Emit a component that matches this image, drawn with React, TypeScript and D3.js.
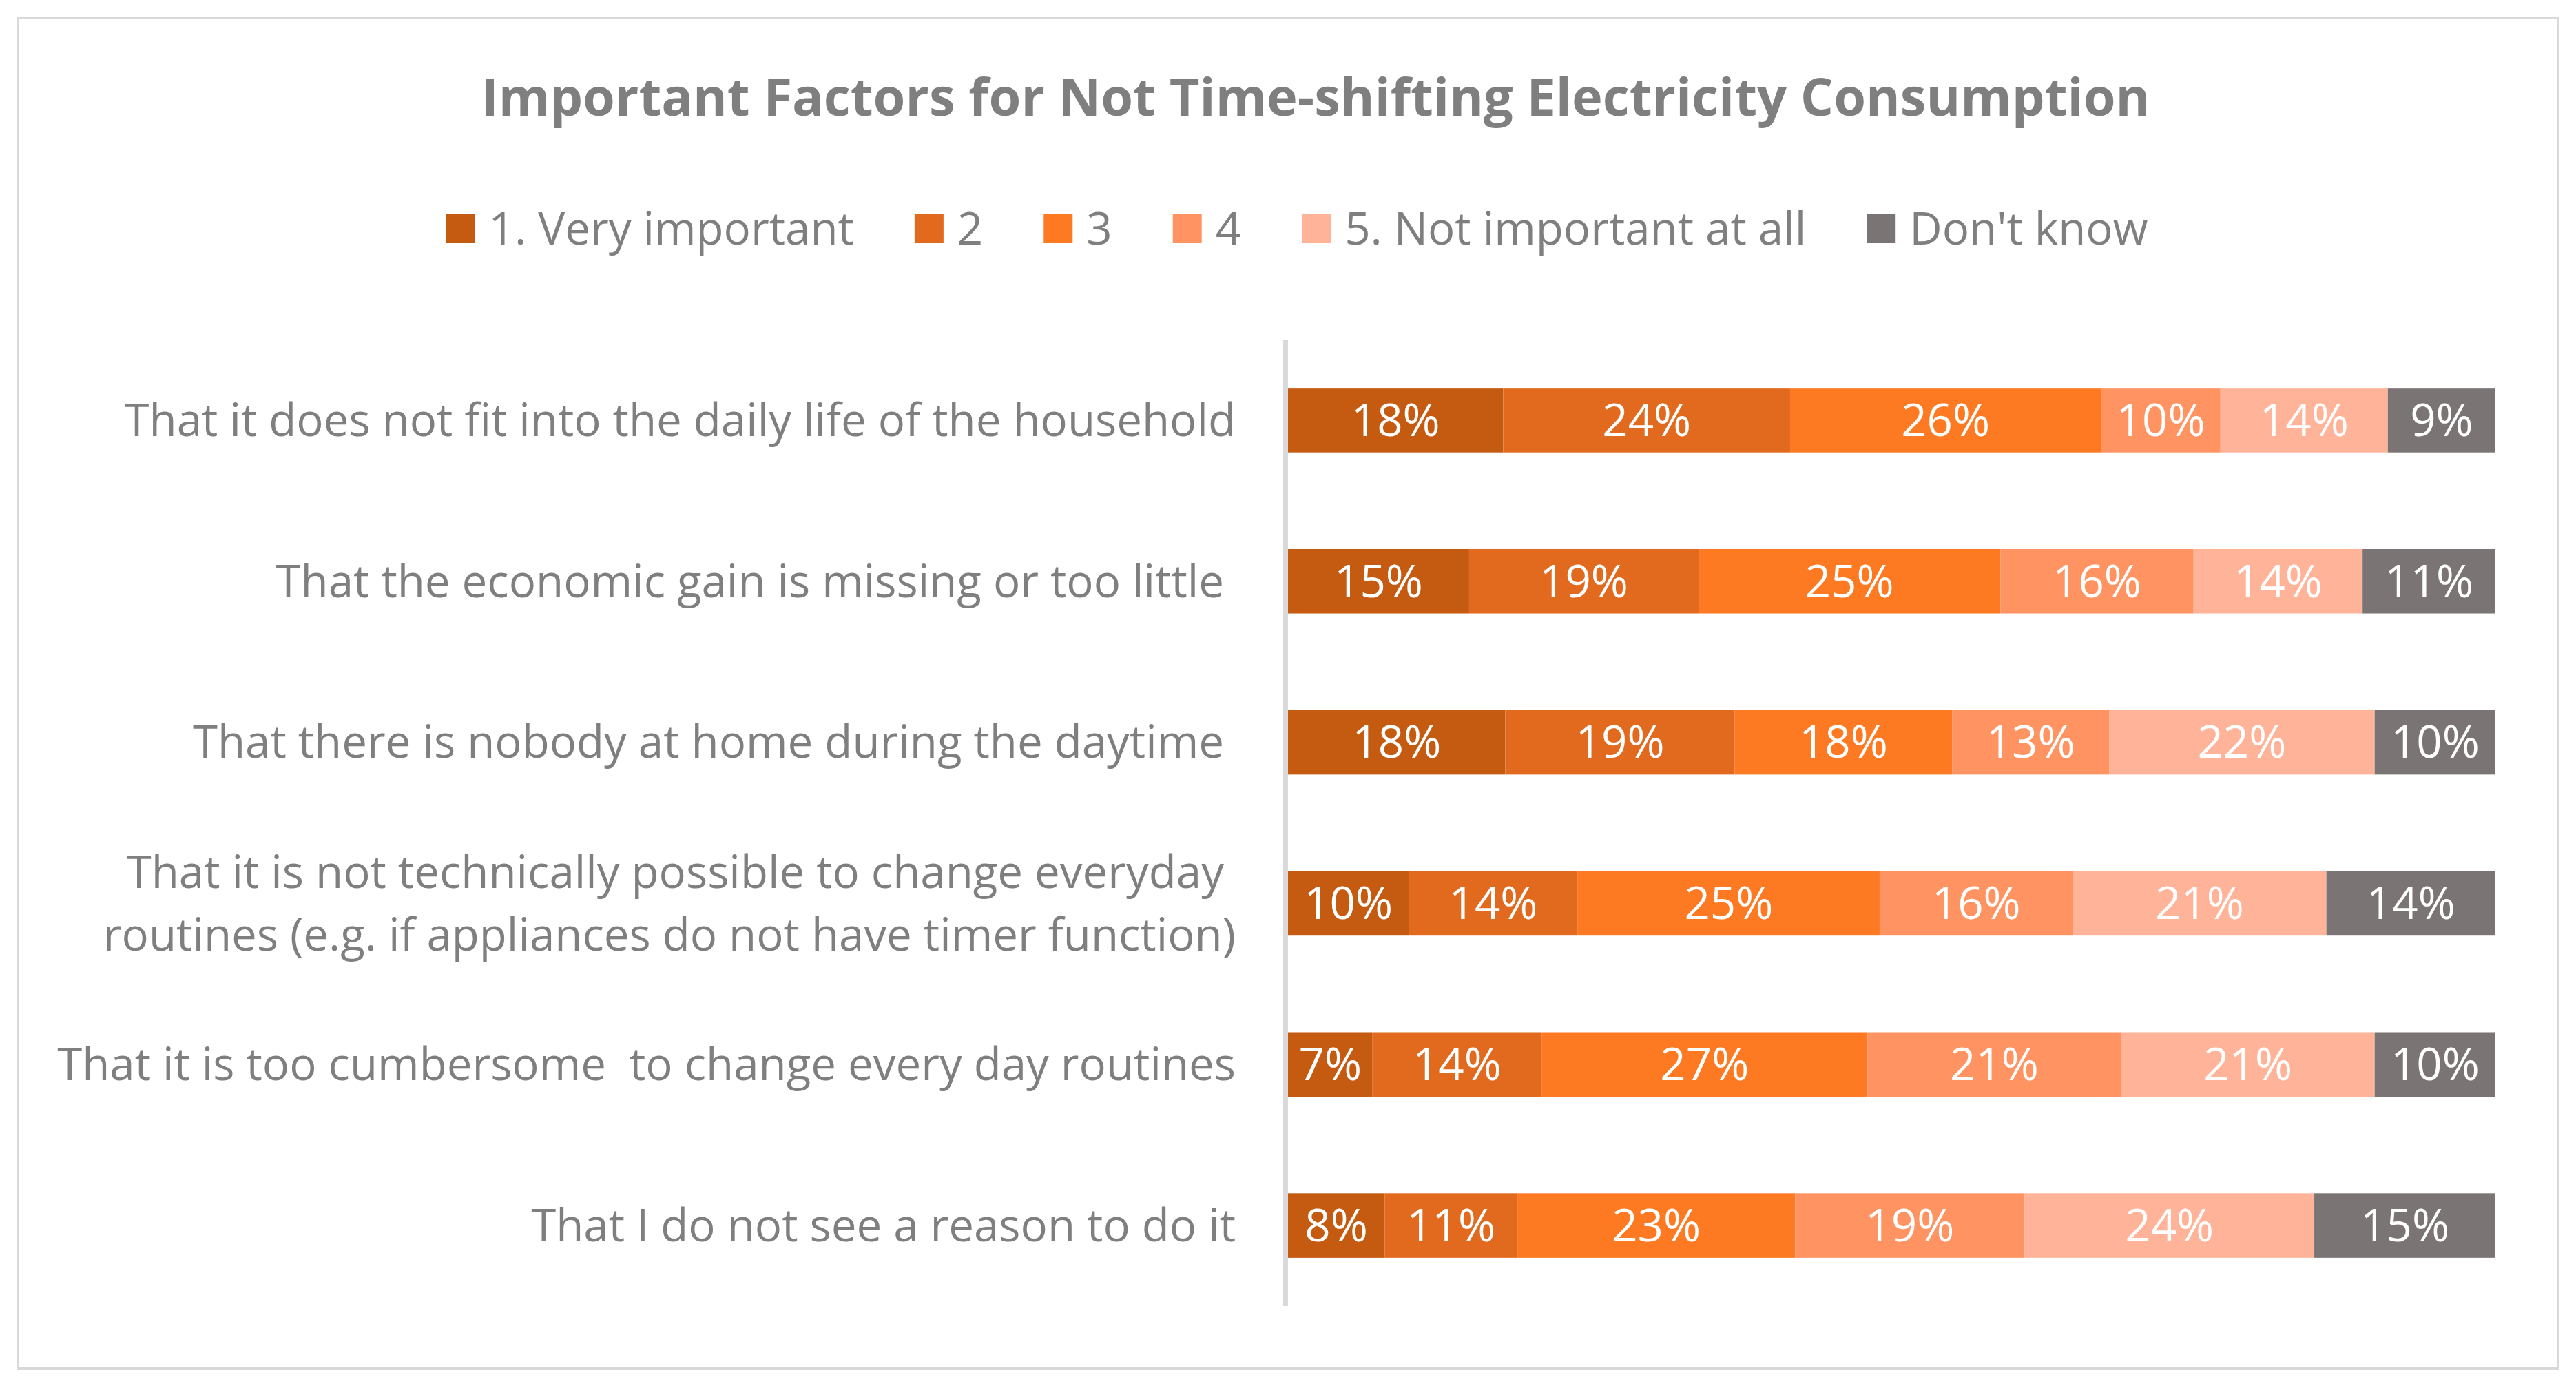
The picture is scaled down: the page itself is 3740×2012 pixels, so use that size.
import React, { useEffect, useRef } from "react";
import * as d3 from "d3";

const title = "Important Factors for Not Time-shifting Electricity Consumption";

// category labels, "\n" marks a line break as in the original
const categories = [
  "That it does not fit into the daily life of the household",
  "That the economic gain is missing or too little ",
  "That there is nobody at home during the daytime ",
  "That it is not technically possible to change everyday \nroutines (e.g. if appliances do not have timer function)",
  "That it is too cumbersome  to change every day routines",
  "That I do not see a reason to do it",
];

const seriesNames = ["1. Very important", "2", "3", "4", "5. Not important at all", "Don't know"];

const veryImportant = [18, 15, 18, 10, 7, 8];
const two = [24, 19, 19, 14, 14, 11];
const three = [26, 25, 18, 25, 27, 23];
const four = [10, 16, 13, 16, 21, 19];
const notImportant = [14, 14, 22, 21, 21, 24];
const dontKnow = [9, 11, 10, 14, 10, 15];

const colors = ["#C55A11", "#E26A1F", "#FE7A22", "#FF9462", "#FFB398", "#7B7474"];

const W = 3740;
const H = 2012;
const FONT = "'Liberation Sans Narrow', 'Open Sans', sans-serif";
const TEXT = "#7F7F7F";

export default function App() {
  const svgRef = useRef<SVGSVGElement>(null);

  useEffect(() => {
    if (!svgRef.current) return;
    document.body.style.margin = "0";
    const svg = d3.select(svgRef.current);
    svg.selectAll("*").remove();

    const measure = (s: string, size: number, weight = "normal") => {
      const t = svg
        .append("text")
        .style("font-family", FONT)
        .style("font-size", `${size}px`)
        .style("font-weight", weight)
        .style("white-space", "pre")
        .text(s);
      const len = (t.node() as SVGTextElement).getComputedTextLength();
      t.remove();
      return len;
    };

    // fit font sizes to the widths seen in the reference
    const titleSize = Math.min(88, (88 * 2423) / measure(title, 88, "bold"));
    const labelSize = Math.min(
      76,
      (76 * 1625) / measure(categories[0], 76),
      (76 * 1711) / measure(categories[4], 76),
    );

    svg
      .append("rect")
      .attr("x", 26)
      .attr("y", 26)
      .attr("width", 3688)
      .attr("height", 1961)
      .attr("fill", "#fff")
      .attr("stroke", "#D9D9D9")
      .attr("stroke-width", 4);

    svg
      .append("text")
      .attr("x", 1910)
      .attr("y", 168)
      .attr("text-anchor", "middle")
      .style("font-family", FONT)
      .style("font-size", `${titleSize}px`)
      .style("font-weight", "bold")
      .style("fill", TEXT)
      .text(title);

    // legend, laid out from measured text widths and centered
    const sq = 42;
    const gapText = 20;
    const gapItem = 88;
    const widths = seriesNames.map((n) => measure(n, labelSize));
    const total =
      d3.sum(widths) + seriesNames.length * (sq + gapText) + (seriesNames.length - 1) * gapItem;
    let lx = 1883 - total / 2;
    const legend = svg.append("g");
    seriesNames.forEach((n, i) => {
      legend
        .append("rect")
        .attr("x", lx)
        .attr("y", 311)
        .attr("width", sq)
        .attr("height", sq)
        .attr("fill", colors[i]);
      legend
        .append("text")
        .attr("x", lx + sq + gapText)
        .attr("y", 332)
        .attr("dy", "0.35em")
        .style("font-family", FONT)
        .style("font-size", `${labelSize}px`)
        .style("fill", TEXT)
        .style("white-space", "pre")
        .text(n);
      lx += sq + gapText + widths[i] + gapItem;
    });

    const rows = categories.map((c, i) => ({
      label: c,
      s0: veryImportant[i],
      s1: two[i],
      s2: three[i],
      s3: four[i],
      s4: notImportant[i],
      s5: dontKnow[i],
    }));
    const keys = ["s0", "s1", "s2", "s3", "s4", "s5"];

    const stacked = d3
      .stack<any>()
      .keys(keys)
      .offset(d3.stackOffsetExpand)(rows);

    const y = d3
      .scaleBand<number>()
      .domain(d3.range(categories.length))
      .range([493, 1896])
      .paddingInner(0.6)
      .paddingOuter(0.3);

    const x = d3.scaleLinear().domain([0, 1]).range([1870, 3623]);

    const layer = svg
      .selectAll(".layer")
      .data(stacked)
      .enter()
      .append("g")
      .attr("fill", (_d, i) => colors[i]);

    layer
      .selectAll("rect")
      .data((d) => d.map((p, i) => ({ p, i })))
      .enter()
      .append("rect")
      .attr("x", (d) => x(d.p[0]))
      .attr("y", (d) => y(d.i)!)
      .attr("width", (d) => x(d.p[1]) - x(d.p[0]))
      .attr("height", y.bandwidth());

    stacked.forEach((s) => {
      svg
        .append("g")
        .selectAll("text")
        .data(s.map((p, i) => ({ p, i, v: (p.data as any)[s.key] as number })))
        .enter()
        .append("text")
        .attr("x", (d) => (x(d.p[0]) + x(d.p[1])) / 2)
        .attr("y", (d) => y(d.i)! + y.bandwidth() / 2)
        .attr("dy", "0.35em")
        .attr("text-anchor", "middle")
        .style("font-family", FONT)
        .style("font-size", `${labelSize}px`)
        .style("fill", "#fff")
        .text((d) => `${d.v}%`);
    });

    // category axis line
    svg
      .append("line")
      .attr("x1", 1866.5)
      .attr("x2", 1866.5)
      .attr("y1", y.range()[0])
      .attr("y2", y.range()[1])
      .attr("stroke", "#D9D9D9")
      .attr("stroke-width", 7);

    categories.forEach((c, i) => {
      const lines = c.split("\n");
      const cy = y(i)! + y.bandwidth() / 2;
      const lh = 91;
      lines.forEach((ln, j) => {
        svg
          .append("text")
          .attr("x", 1794)
          .attr("y", cy + (j - (lines.length - 1) / 2) * lh)
          .attr("dy", "0.35em")
          .attr("text-anchor", "end")
          .style("font-family", FONT)
          .style("font-size", `${labelSize}px`)
          .style("fill", TEXT)
          .style("white-space", "pre")
          .text(ln);
      });
    });
  }, []);

  return (
    <svg
      ref={svgRef}
      width={W}
      height={H}
      style={{ display: "block", background: "#fff" }}
    />
  );
}
